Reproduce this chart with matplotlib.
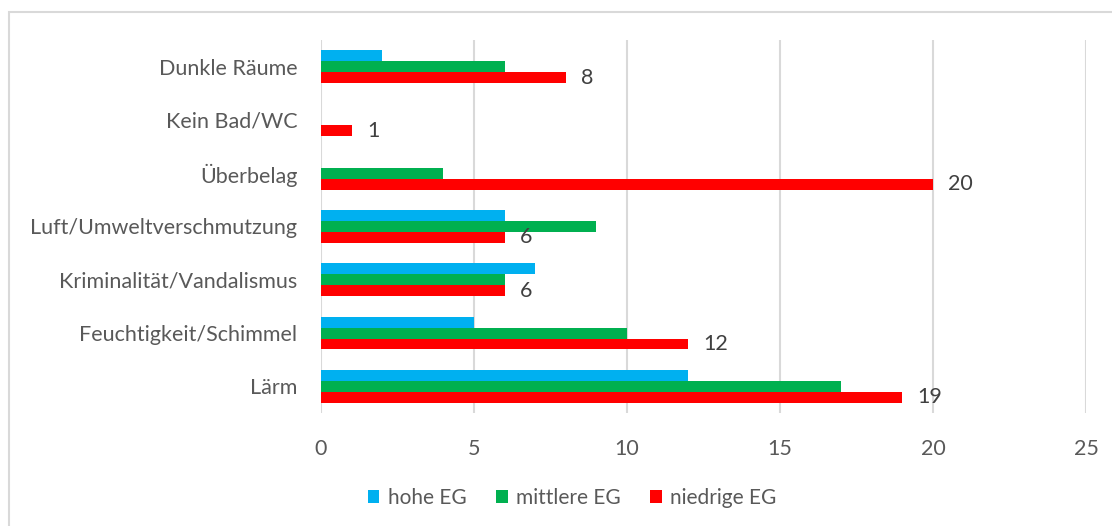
import numpy as np
import matplotlib
matplotlib.use('Agg')
import matplotlib.pyplot as plt
from matplotlib.patches import Rectangle

plt.rcParams['font.family'] = ['Lato', 'DejaVu Sans']

# categories from bottom to top
categories = ['Lärm', 'Feuchtigkeit/Schimmel', 'Kriminalität/Vandalismus',
              'Luft/Umweltverschmutzung', 'Überbelag', 'Kein Bad/WC', 'Dunkle Räume']
hohe_eg = [12, 5, 7, 6, 0, 0, 2]
mittlere_eg = [17, 10, 6, 9, 4, 0, 6]
niedrige_eg = [19, 12, 6, 6, 20, 1, 8]
series_names = ['hohe EG', 'mittlere EG', 'niedrige EG']
colours = ['#00B0F0', '#00B050', '#FF0000']
x_ticks = [0, 5, 10, 15, 20, 25]

TEXT = '#595959'
W, H = 1112, 526

fig = plt.figure(figsize=(W / 100, H / 100), dpi=100)
ax = fig.add_axes([321 / W, 1 - 413 / H, (1086 - 321) / W, (413 - 40) / H])

y = np.arange(len(categories))
bh = 0.205
for offset, vals, col, name in zip([bh, 0, -bh], [hohe_eg, mittlere_eg, niedrige_eg],
                                   colours, series_names):
    ax.barh(y + offset, vals, height=bh, color=col, label=name, zorder=3)

# value labels only on niedrige EG
for yi, v in zip(y, niedrige_eg):
    ax.text(v + 0.5, yi - bh, str(v), va='center', ha='left',
            fontsize=15.5, color='#404040')

ax.set_xlim(0, 25)
ax.set_ylim(-0.5, len(categories) - 0.5)
ax.set_xticks(x_ticks)
ax.set_yticks(y)
ax.set_yticklabels(categories)
ax.grid(axis='x', color='#D9D9D9', linewidth=1.5, zorder=0)
ax.tick_params(axis='both', length=0, labelsize=15.5, labelcolor=TEXT)
ax.tick_params(axis='x', pad=19)
ax.tick_params(axis='y', pad=17)
for s in ax.spines.values():
    s.set_visible(False)

fig.legend(loc='center', bbox_to_anchor=(572 / W, 1 - 498 / H), ncol=3, frameon=False,
           fontsize=15, labelcolor=TEXT, handlelength=0.57, handleheight=0.57,
           handletextpad=0.4, columnspacing=1.4)

fig.patches.append(Rectangle((9 / W, -0.1), 1.2, 1.1 - 12 / H,
                             transform=fig.transFigure, fill=False,
                             edgecolor='#D9D9D9', linewidth=1.5))

fig.savefig('out.png', dpi=100)
